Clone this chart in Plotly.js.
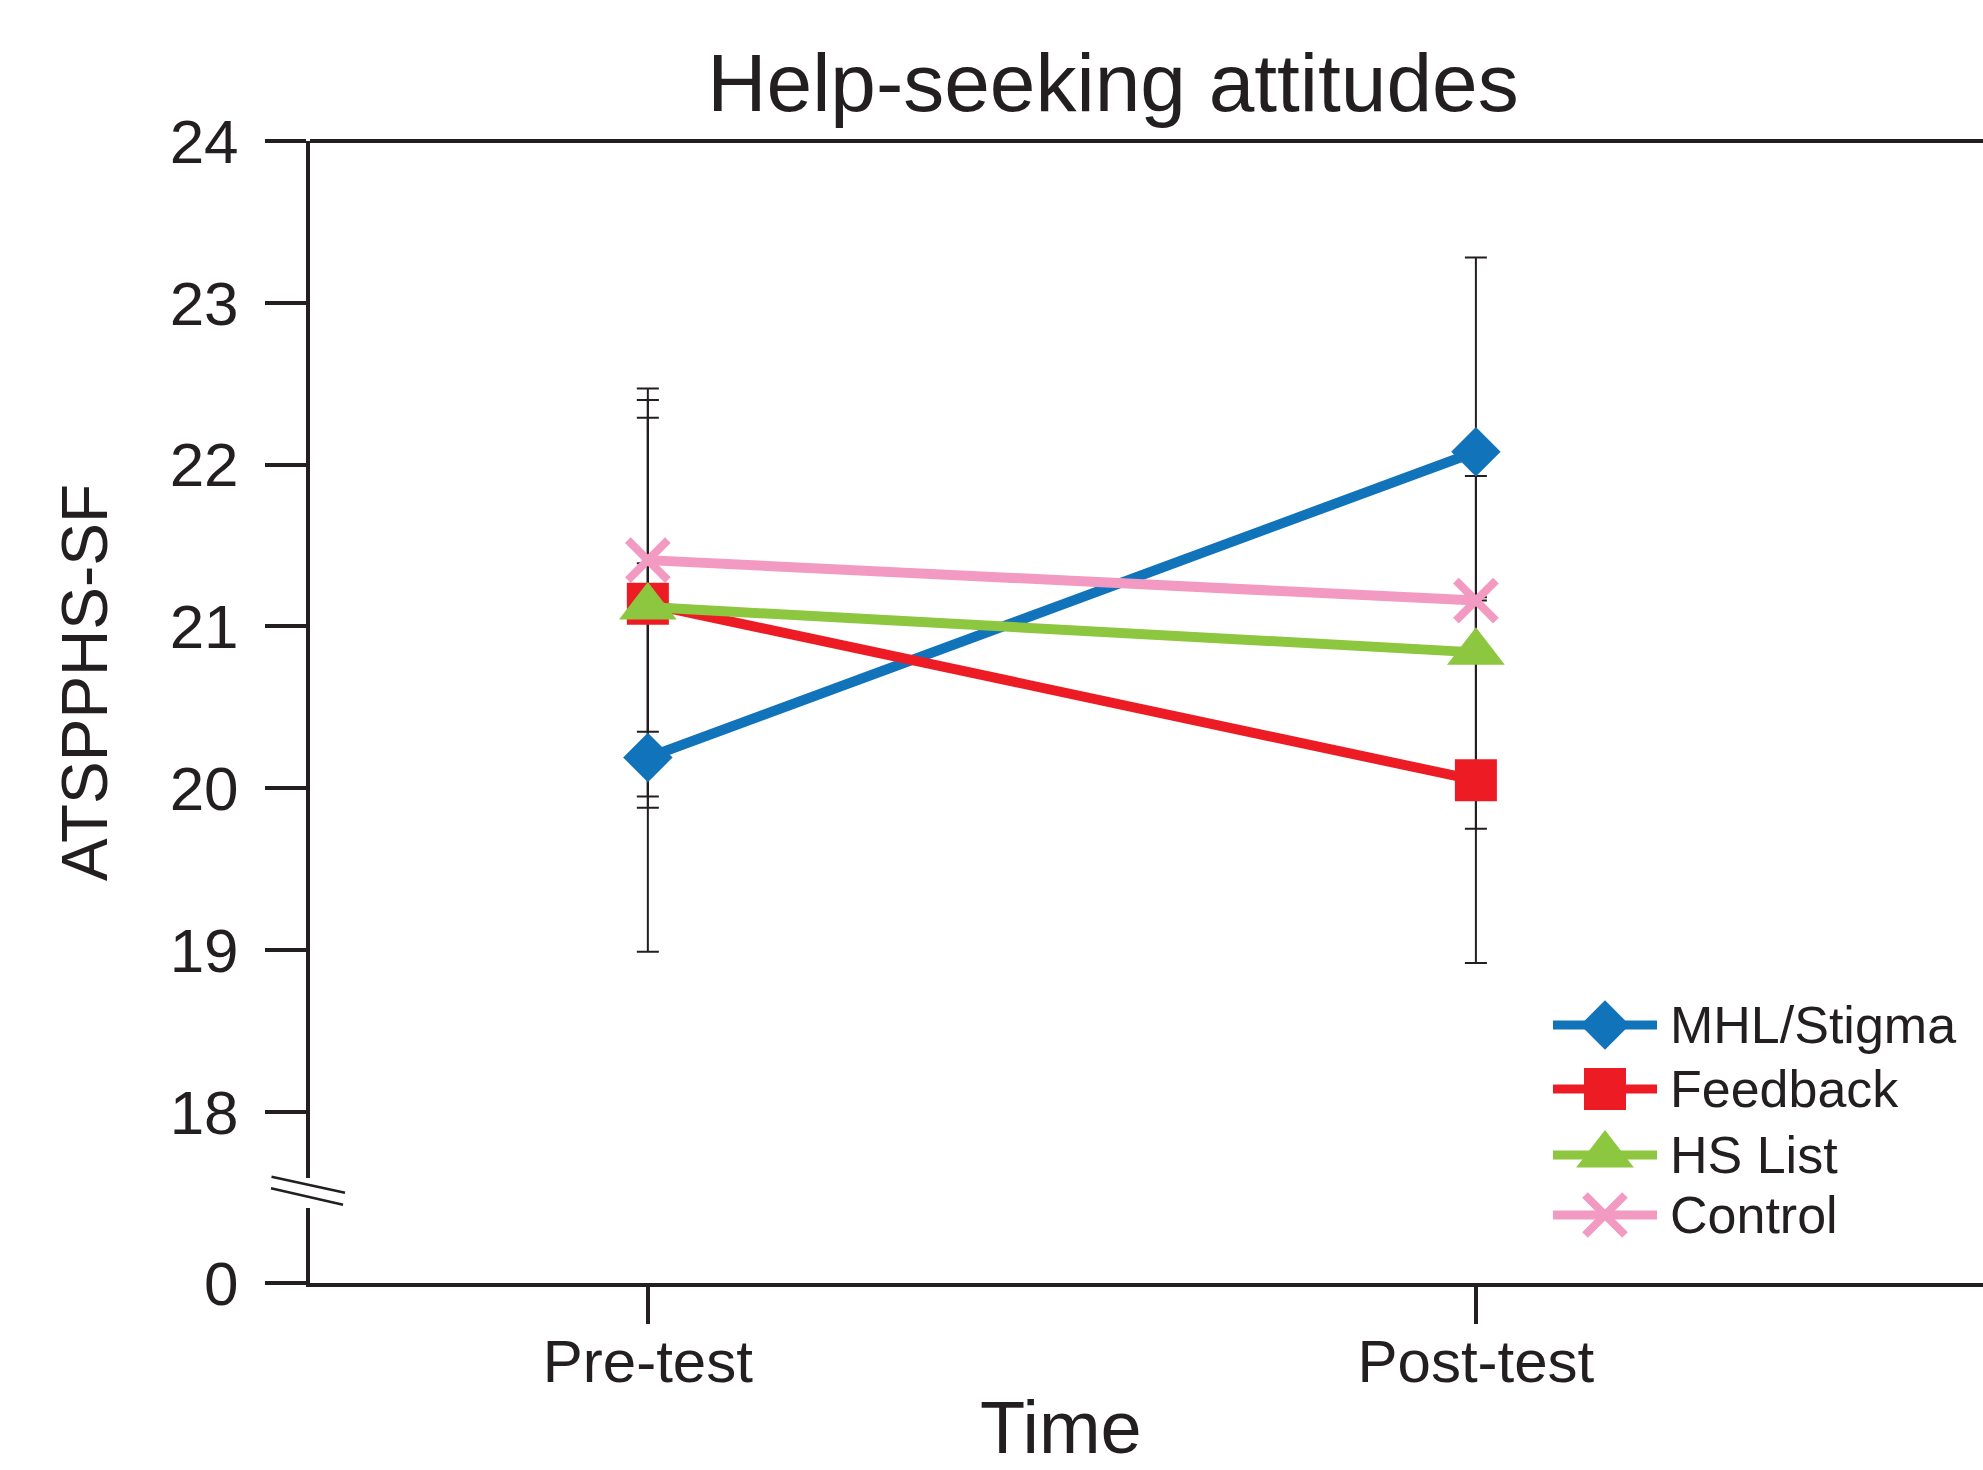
<!DOCTYPE html>
<html>
<head>
<meta charset="utf-8">
<script src="https://cdn.plot.ly/plotly-3.0.1.min.js"></script>
<style>
  html, body { margin: 0; padding: 0; background: #ffffff; overflow: hidden; }
  #chart { width: 1983px; height: 1470px; }
</style>
</head>
<body>
<div id="chart"></div>
<script>
// ---------------- data ----------------
const categories = ['Pre-test', 'Post-test'];
const seriesNames = ['MHL/Stigma', 'Feedback', 'HS List', 'Control'];

const mhlMeans = [20.19, 22.08];
const mhlErrors = [1.20, 1.20];
const feedbackMeans = [21.14, 20.05];
const feedbackErrors = [1.26, 1.13];
const hsListMeans = [21.12, 20.84];
const hsListErrors = [1.17, 1.09];
const controlMeans = [21.41, 21.16];
const controlErrors = [1.06, 0];

const yTickValues = [18, 19, 20, 21, 22, 23, 24];
const yTickLabels = ['18', '19', '20', '21', '22', '23', '24'];
const yBreakLabel = '0';

const chartTitle = 'Help-seeking attitudes';
const xTitle = 'Time';
const yTitle = 'ATSPPHS-SF';

// ---------------- styling ----------------
const INK = '#231f20';
const FONT = 'Liberation Sans, Arial, sans-serif';
const W = 1983, H = 1470;
const M = { l: 310, r: 0, t: 141, b: 187 };
const plotW = W - M.l - M.r, plotH = H - M.t - M.b;
const yBottom = 16.943;   // position of the axis break base ("0")

const styles = [
  { color: '#1174bb', symbol: 'diamond', size: 38, lw: 0 },
  { color: '#ed1c24', symbol: 'square', size: 42, lw: 0 },
  { color: '#8dc63f', symbol: 'triangle-up', size: 50, lw: 0 },
  { color: '#f29ac2', symbol: 'x-thin', size: 40, lw: 8 }
];
const means = [mhlMeans, feedbackMeans, hsListMeans, controlMeans];
const errs = [mhlErrors, feedbackErrors, hsListErrors, controlErrors];

function px2paperX(px) { return (px - M.l) / plotW; }
function px2paperY(py) { return (H - M.b - py) / plotH; }

const traces = [];
// error bars first (beneath all lines and markers)
means.forEach((m, i) => {
  traces.push({
    x: categories, y: m, type: 'scatter', mode: 'markers',
    marker: { size: 1, color: 'rgba(0,0,0,0)' },
    error_y: { type: 'data', array: errs[i], visible: true, color: INK, thickness: 2, width: 11 },
    showlegend: false, hoverinfo: 'skip'
  });
});
// series lines + markers
means.forEach((m, i) => {
  const s = styles[i];
  traces.push({
    x: categories, y: m, type: 'scatter', mode: 'lines+markers', name: seriesNames[i],
    line: { color: s.color, width: 10 },
    marker: { symbol: s.symbol, size: s.size, color: s.color, line: { color: s.color, width: s.lw } },
    showlegend: false
  });
});

// custom legend drawn on a pixel-scaled overlay axis pair
const legendY = [1025, 1089, 1155, 1215];
const legX0 = 1553, legX1 = 1657, legXm = 1605, legText = 1668;
const annotations = [];
seriesNames.forEach((name, i) => {
  const s = styles[i];
  traces.push({
    x: [legX0, legX1], y: [legendY[i], legendY[i]], xaxis: 'x2', yaxis: 'y2',
    type: 'scatter', mode: 'lines', line: { color: s.color, width: 9 },
    showlegend: false, hoverinfo: 'skip'
  });
  traces.push({
    x: [legXm], y: [legendY[i]], xaxis: 'x2', yaxis: 'y2',
    type: 'scatter', mode: 'markers',
    marker: { symbol: s.symbol, size: s.size, color: s.color, line: { color: s.color, width: s.lw } },
    showlegend: false, hoverinfo: 'skip', cliponaxis: false
  });
  annotations.push({
    xref: 'x2', yref: 'y2', x: legText, y: legendY[i], text: name, showarrow: false,
    xanchor: 'left', yanchor: 'middle', font: { family: FONT, size: 52, color: INK }
  });
});

// axis titles
annotations.push({
  xref: 'paper', yref: 'paper', x: px2paperX(1061), y: px2paperY(1428), text: xTitle,
  showarrow: false, xanchor: 'center', yanchor: 'middle',
  font: { family: FONT, size: 74, color: INK }
});
annotations.push({
  xref: 'paper', yref: 'paper', x: px2paperX(85), y: px2paperY(683), text: yTitle,
  showarrow: false, xanchor: 'center', yanchor: 'middle', textangle: -90,
  font: { family: FONT, size: 64, color: INK }
});

const shapes = [
  // top border line
  { type: 'line', xref: 'paper', yref: 'paper', x0: 0, x1: 1, y0: 1, y1: 1,
    line: { color: INK, width: 4 }, layer: 'above' },
  // gap in the y axis for the break
  { type: 'rect', xref: 'paper', yref: 'paper',
    x0: px2paperX(298), x1: px2paperX(320), y0: px2paperY(1208), y1: px2paperY(1178),
    fillcolor: '#ffffff', line: { width: 0 }, layer: 'above' },
  // break slashes
  { type: 'line', xref: 'paper', yref: 'paper',
    x0: px2paperX(271.5), y0: px2paperY(1176.7), x1: px2paperX(345), y1: px2paperY(1192.7),
    line: { color: INK, width: 2.5 }, layer: 'above' },
  { type: 'line', xref: 'paper', yref: 'paper',
    x0: px2paperX(271), y0: px2paperY(1188.3), x1: px2paperX(343), y1: px2paperY(1204.7),
    line: { color: INK, width: 2.5 }, layer: 'above' }
];

const layout = {
  width: W, height: H,
  margin: M,
  paper_bgcolor: '#ffffff', plot_bgcolor: '#ffffff',
  showlegend: false,
  font: { family: FONT, color: INK },
  title: {
    text: chartTitle, font: { family: FONT, size: 82, color: INK },
    xref: 'paper', x: px2paperX(1113), xanchor: 'center',
    yref: 'container', y: 1 - 82 / H, yanchor: 'middle'
  },
  xaxis: {
    type: 'category', categoryorder: 'array', categoryarray: categories,
    range: [-0.408, 1.6124], fixedrange: true,
    showline: true, linewidth: 4, linecolor: INK,
    ticks: 'outside', ticklen: 37, tickwidth: 4, tickcolor: INK,
    ticklabelstandoff: -14,
    tickfont: { family: FONT, size: 60, color: INK },
    showgrid: false, zeroline: false
  },
  yaxis: {
    range: [yBottom, 24], fixedrange: true,
    tickmode: 'array',
    tickvals: [yBottom].concat(yTickValues),
    ticktext: [yBreakLabel].concat(yTickLabels),
    showline: true, linewidth: 4, linecolor: INK,
    ticks: 'outside', ticklen: 41, tickwidth: 4, tickcolor: INK,
    ticklabelstandoff: 14,
    tickfont: { family: FONT, size: 62, color: INK },
    showgrid: false, zeroline: false
  },
  xaxis2: { overlaying: 'x', range: [M.l, W - M.r], visible: false, fixedrange: true },
  yaxis2: { overlaying: 'y', range: [H - M.b, M.t], visible: false, fixedrange: true },
  annotations: annotations,
  shapes: shapes
};

Plotly.newPlot('chart', traces, layout, { displayModeBar: false, staticPlot: true });
</script>
</body>
</html>
